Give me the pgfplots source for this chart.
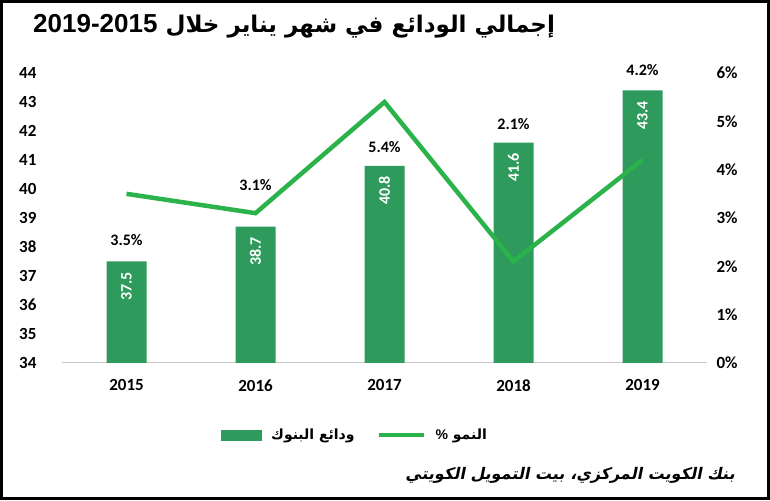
\documentclass[border=0pt]{standalone}
\usepackage{pgfplots}
\pgfplotsset{compat=1.18}
\usepackage{pgfplotstable}
\usepackage{fontspec}
\setmainfont{Carlito}
\newfontfamily\arabicfont[Script=Arabic]{DejaVu Sans}
\newfontfamily\arabicslant[Script=Arabic,FakeSlant=0.2]{DejaVu Sans}
\newfontfamily\arialb{Liberation Sans}
\TeXXeTstate=1
\definecolor{barcol}{RGB}{46,154,92}
\definecolor{linecol}{RGB}{43,178,75}
\pgfplotstableread{
x val g lab
0 37.5 3.5 38.24
1 38.7 3.1 40.14
2 40.8 5.4 41.45
3 41.6 2.1 42.24
4 43.4 4.2 44.10
}\data
\begin{document}
\begin{tikzpicture}[x=1pt,y=1pt]
\draw[line width=3pt] (1.5,1.5) rectangle (768.5,498.5);
\begin{axis}[at={(62pt,137pt)}, anchor=south west, scale only axis,
  width=645pt, height=290pt,
  xmin=-0.5, xmax=4.5, ymin=34, ymax=44,
  ytick={34,35,...,44}, xtick={0,1,2,3,4},
  xticklabels={2015,2016,2017,2018,2019},
  axis y line*=left, axis x line*=bottom,
  x axis line style={draw=gray!45, line width=1pt, -},
  y axis line style={draw=none},
  major tick length=0pt,
  /pgf/number format/assume math mode=true,
  tick label style={font=\bfseries\fontsize{17}{17}\selectfont},
  xticklabel style={yshift=-13pt},
  yticklabel style={xshift=-22pt},
  clip=false]
\addplot[ybar, bar width=40pt, fill=barcol, draw=none,
  nodes near coords={\pgfmathprintnumber[fixed,fixed zerofill,precision=1]{\pgfplotspointmeta}},
  nodes near coords style={yshift=-7pt, rotate=90, anchor=east, text=white, font=\bfseries\fontsize{16}{16}\selectfont}]
  table[x=x, y=val]{\data};
\addplot[draw=none, mark=none, only marks, point meta=explicit,
  nodes near coords={\pgfmathprintnumber[fixed,fixed zerofill,precision=1]{\pgfplotspointmeta}\%},
  nodes near coords style={anchor=center, text=black, font=\bfseries\fontsize{16}{16}\selectfont}]
  table[x=x, y=lab, meta=g]{\data};
\end{axis}
\begin{axis}[at={(62pt,137pt)}, anchor=south west, scale only axis,
  width=645pt, height=290pt,
  xmin=-0.5, xmax=4.5, ymin=0, ymax=6,
  ytick={0,1,...,6},
  yticklabel={\pgfmathprintnumber{\tick}\%},
  axis y line*=right, axis x line=none,
  y axis line style={draw=none},
  major tick length=0pt,
  /pgf/number format/assume math mode=true,
  tick label style={font=\bfseries\fontsize{17}{17}\selectfont},
  yticklabel style={xshift=6pt},
  legend style={at={(0.454,-0.248)}, anchor=center, draw=none, fill=none,
    legend columns=2, font=\arabicfont\bfseries\fontsize{14}{14}\selectfont,
    /tikz/every odd column/.append style={column sep=8pt},
    /tikz/every even column/.append style={column sep=20pt}},
  clip=false]
\addlegendimage{legend image code/.code={\fill[barcol] (0pt,-5pt) rectangle (40pt,5pt);}}
\addlegendentry{\beginR ودائع البنوك\endR}
\addplot[linecol, line width=4.5pt, mark=none,
  legend image code/.code={\draw[linecol, line width=4pt] (0pt,0pt) -- (45pt,0pt);}]
  table[x=x, y=g]{\data};
\addlegendentry{\beginR النمو {\fontspec{Liberation Sans}\bfseries\%}\endR}
\end{axis}
\node[anchor=west, inner sep=0pt] at (33,474)
  {\arabicfont\bfseries\fontsize{23}{23}\selectfont\beginR إجمالي  الودائع في شهر يناير خلال \beginL{\arialb\bfseries\fontsize{26}{26}\selectfont 2019-2015}\endL\endR};
\node[anchor=east, inner sep=0pt] at (735,25)
  {\arabicslant\bfseries\fontsize{16}{16}\selectfont\beginR بنك الكويت المركزي، بيت التمويل الكويتي\endR};
\end{tikzpicture}
\end{document}
